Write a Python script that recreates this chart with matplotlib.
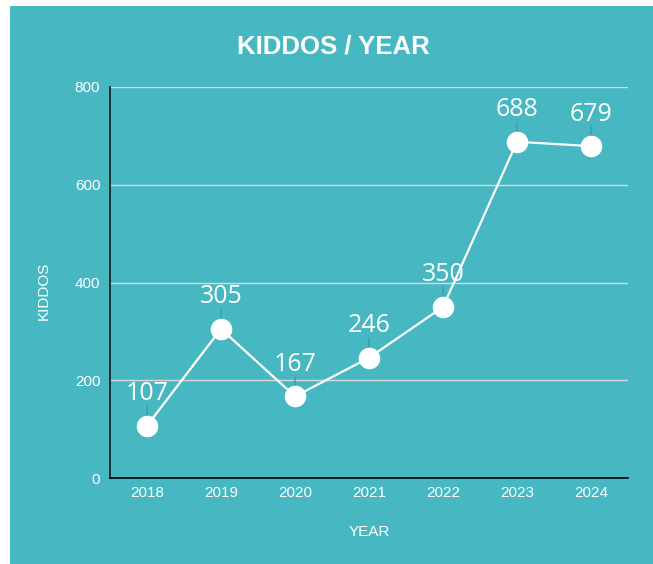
import matplotlib.pyplot as plt
from matplotlib.patches import Rectangle

years = ["2018", "2019", "2020", "2021", "2022", "2023", "2024"]
kiddos = [107, 305, 167, 246, 350, 688, 679]
y_ticks = [0, 200, 400, 600, 800]

teal = "#47b8c2"
stem = "#3a9ea8"

fig = plt.figure(figsize=(6.53, 5.64), dpi=100)
fig.patch.set_facecolor("white")
fig.patches.append(Rectangle((10 / 653, 0), 1, 558 / 564, transform=fig.transFigure,
                             facecolor=teal, edgecolor="none", zorder=-1))

ax = fig.add_axes([110 / 653, 86 / 564, 518 / 653, 391 / 564])
ax.set_facecolor("none")

x = list(range(len(years)))
ax.plot(x, kiddos, color="white", lw=1.6, zorder=3)
ax.plot(x, kiddos, "o", color="white", ms=14.5, zorder=4)

for xi, v in zip(x, kiddos):
    ax.annotate("", xy=(xi, v), xytext=(0, 14), textcoords="offset points",
                arrowprops=dict(arrowstyle="-", color=stem, lw=1, shrinkA=0, shrinkB=7),
                zorder=2)
    ax.annotate(str(v), xy=(xi, v), xytext=(0, 14), textcoords="offset points",
                ha="center", va="bottom", color="white", fontsize=18,
                family="Open Sans", zorder=5)

ax.set_xlim(-0.5, len(years) - 0.5)
ax.set_ylim(0, 800)
ax.set_xticks(x)
ax.set_xticklabels(years)
ax.set_yticks(y_ticks)
ax.tick_params(length=0, colors="white", labelsize=11)
ax.tick_params(axis="y", pad=7)
ax.tick_params(axis="x", pad=6)
for lab in ax.get_xticklabels() + ax.get_yticklabels():
    lab.set_family("Liberation Sans")

ax.grid(axis="y", color="#d8d8d8", lw=1)
ax.set_axisbelow(True)
for s in ["top", "right"]:
    ax.spines[s].set_visible(False)
ax.spines["left"].set_color("#1a1a1a")
ax.spines["bottom"].set_color("black")
ax.spines["left"].set_linewidth(1.2)
ax.spines["bottom"].set_linewidth(1.2)

ax.set_xlabel("YEAR", color="white", fontsize=11, family="Liberation Sans")
ax.xaxis.set_label_coords(0.5, -47 / 391)
ax.set_ylabel("KIDDOS", color="white", fontsize=11, family="Liberation Sans")
ax.yaxis.set_label_coords(-59 / 518, 0.48)

fig.text(333 / 653, 1 - 46 / 564, "KIDDOS / YEAR", color="white", fontsize=18.5,
         fontweight="bold", family="Liberation Sans", ha="center", va="center")

fig.savefig("out.png", dpi=100)
